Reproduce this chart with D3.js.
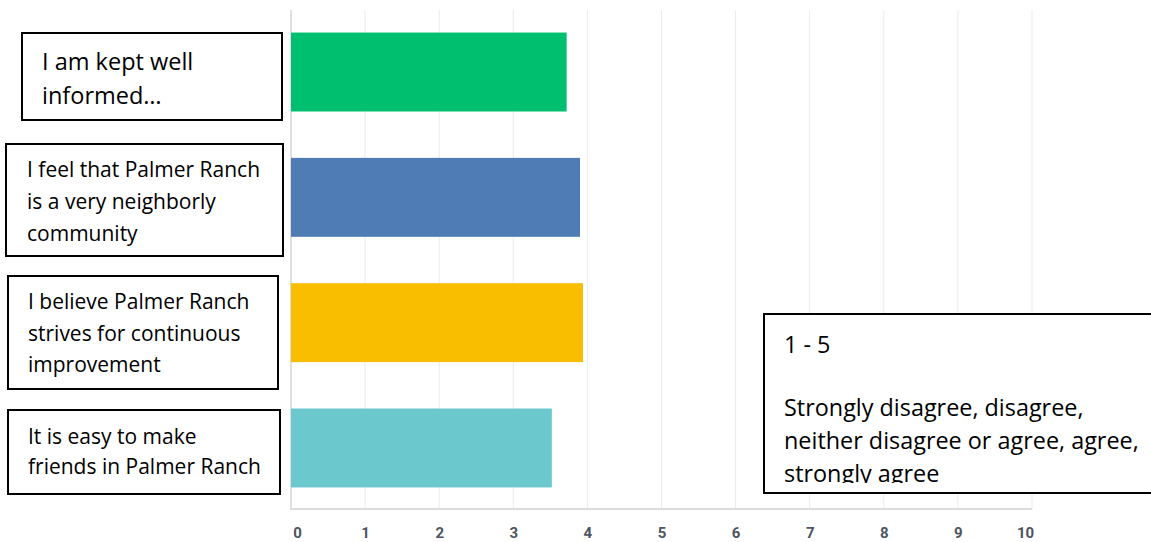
<!DOCTYPE html>
<html>
<head>
<meta charset="utf-8">
<script src="https://cdn.jsdelivr.net/npm/d3@7"></script>
<style>
  body { margin: 0; background: #fff; }
  svg { display: block; }
</style>
</head>
<body>
<div class="draw"></div>
<script>
var categories = [
  'I am kept well informed…',
  'I feel that Palmer Ranch is a very neighborly community',
  'I believe Palmer Ranch strives for continuous improvement',
  'It is easy to make friends in Palmer Ranch'
];
var values = [3.72, 3.90, 3.94, 3.52];
var barColors = ['#00bf6f', '#507cb6', '#f9be00', '#6bc8cd'];
var xTicks = [0, 1, 2, 3, 4, 5, 6, 7, 8, 9, 10];

// label boxes laid over the y axis, as in the pasted screenshot
var labelLines = [
  ['I am kept well', 'informed…'],
  ['I feel that Palmer Ranch', 'is a very neighborly', 'community'],
  ['I believe Palmer Ranch', 'strives for continuous', 'improvement'],
  ['It is easy to make', 'friends in Palmer Ranch']
];
var noteLines = ['1 - 5', '', 'Strongly disagree, disagree,', 'neither disagree or agree, agree,', 'strongly agree'];

var size = { w: 1151, h: 542 };
var plot = { left: 291, right: 1032, top: 10, bottom: 510 };

var svg = d3.select('.draw').append('svg')
  .attr('width', size.w)
  .attr('height', size.h);

var x = d3.scaleLinear().domain([0, 10]).range([plot.left, plot.right]);
var y = d3.scaleBand().domain(categories).range([plot.top, plot.bottom])
  .paddingInner(0.37).paddingOuter(0.18);

// grid
svg.append('g').selectAll('line').data(xTicks.slice(1)).enter().append('line')
  .attr('x1', function(d) { return x(d); })
  .attr('x2', function(d) { return x(d); })
  .attr('y1', plot.top)
  .attr('y2', plot.bottom)
  .attr('stroke', '#ebebeb')
  .attr('stroke-width', 1);

svg.append('line')
  .attr('x1', x(0)).attr('x2', x(0))
  .attr('y1', plot.top).attr('y2', plot.bottom)
  .attr('stroke', '#d4d4d4').attr('stroke-width', 1.5);

svg.append('line')
  .attr('x1', x(0)).attr('x2', x(10))
  .attr('y1', plot.bottom - 1).attr('y2', plot.bottom - 1)
  .attr('stroke', '#dcdcdc').attr('stroke-width', 2);

// bars
svg.append('g').selectAll('rect').data(categories).enter().append('rect')
  .attr('x', x(0))
  .attr('y', function(d) { return y(d); })
  .attr('width', function(d, i) { return x(values[i]) - x(0); })
  .attr('height', y.bandwidth())
  .attr('fill', function(d, i) { return barColors[i]; });

// x axis labels
var xAxis = d3.axisBottom(x).tickValues(xTicks).tickSize(0).tickPadding(0)
  .tickFormat(d3.format('d'));
var gx = svg.append('g')
  .attr('transform', 'translate(0,' + (plot.bottom + 17) + ')')
  .call(xAxis);
gx.select('.domain').remove();
gx.attr('font-size', 15).attr('font-family', 'Roboto, Arial, sans-serif');
gx.selectAll('text')
  .style('font-weight', 'bold')
  .style('font-size', '15px')
  .attr('fill', '#4d5460')
  .attr('dx', function(d) { return d === 0 ? 6 : (d === 10 ? -7 : 0); });

// label boxes
var boxes = [
  { x: 22, y: 33, w: 260, h: 87, tx: 42, ty: 70, lh: 34, fs: 23.5 },
  { x: 6, y: 144, w: 277, h: 112, tx: 27, ty: 177, lh: 32, fs: 21 },
  { x: 8, y: 276, w: 270, h: 113, tx: 28, ty: 309, lh: 31.5, fs: 21 },
  { x: 8, y: 410, w: 272, h: 84, tx: 28, ty: 444, lh: 30, fs: 21 }
];
var fontFamily = '"Open Sans", Lato, sans-serif';

boxes.forEach(function(b, i) {
  var g = svg.append('g');
  g.append('rect')
    .attr('x', b.x).attr('y', b.y).attr('width', b.w).attr('height', b.h)
    .attr('fill', '#fff').attr('stroke', '#000').attr('stroke-width', 2);
  var text = g.append('text')
    .attr('font-family', fontFamily)
    .attr('font-size', b.fs)
    .attr('fill', '#000');
  labelLines[i].forEach(function(line, j) {
    text.append('tspan')
      .attr('x', b.tx)
      .attr('y', b.ty + j * b.lh)
      .text(line);
  });
});

// note box, clipped like the original
var note = { x: 764, y: 314, w: 400, h: 179 };
svg.append('clipPath').attr('id', 'noteClip')
  .append('rect')
  .attr('x', note.x).attr('y', note.y).attr('width', note.w).attr('height', note.h - 10);
svg.append('rect')
  .attr('x', note.x).attr('y', note.y).attr('width', note.w).attr('height', note.h)
  .attr('fill', '#fff').attr('stroke', '#000').attr('stroke-width', 2);
var noteText = svg.append('text')
  .attr('clip-path', 'url(#noteClip)')
  .attr('font-family', fontFamily)
  .attr('font-size', 23.4)
  .attr('fill', '#000');
noteLines.forEach(function(line, j) {
  noteText.append('tspan')
    .attr('x', 784)
    .attr('y', 353 + j * 30 + (j > 1 ? 3 : 0) + (j > 2 ? (j - 2) * 3 : 0))
    .text(line);
});
</script>
</body>
</html>
